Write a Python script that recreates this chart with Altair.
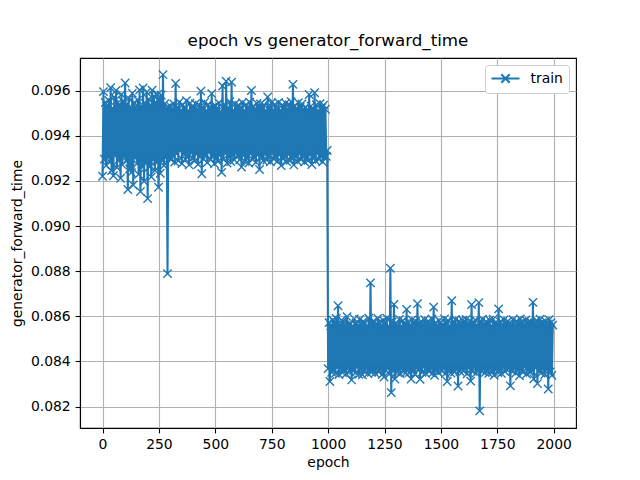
import altair as alt
import pandas as pd

# generator_forward_time, in units of 1e-5 s, one value every 4 epochs
time_0_96 = [9221, 9596, 9297, 9548, 9268, 9532, 9305, 9557, 9284, 9613, 9246, 9523, 9223, 9571, 9316, 9601, 9259, 9546, 9294, 9539, 9212, 9584, 9271, 9552, 9308]
time_100_196 = [9634, 9289, 9541, 9162, 9566, 9253, 9518, 9237, 9589, 9182, 9547, 9302, 9529, 9276, 9558, 9229, 9603, 9153, 9532, 9261, 9612, 9198, 9545, 9286, 9593]
time_200_296 = [9122, 9562, 9263, 9537, 9218, 9602, 9294, 9576, 9247, 9549, 9287, 9583, 9172, 9561, 9234, 9581, 9291, 9671, 9268, 9542, 9302, 9524, 8789, 9527, 9301]
time_300_396 = [9532, 9296, 9518, 9312, 9541, 9284, 9632, 9321, 9526, 9289, 9549, 9335, 9513, 9277, 9538, 9318, 9521, 9296, 9556, 9307, 9509, 9271, 9545, 9326, 9528]
time_400_496 = [9302, 9528, 9288, 9543, 9319, 9517, 9274, 9536, 9309, 9598, 9232, 9527, 9298, 9548, 9316, 9512, 9281, 9539, 9327, 9524, 9295, 9587, 9313, 9529, 9276]
time_500_596 = [9534, 9302, 9519, 9287, 9546, 9314, 9508, 9238, 9621, 9297, 9537, 9322, 9642, 9279, 9525, 9308, 9551, 9286, 9638, 9317, 9514, 9294, 9542, 9326, 9529]
time_600_696 = [9311, 9536, 9294, 9521, 9262, 9547, 9318, 9512, 9287, 9538, 9304, 9526, 9279, 9549, 9321, 9601, 9296, 9531, 9308, 9518, 9283, 9544, 9315, 9523, 9251]
time_700_796 = [9541, 9306, 9524, 9289, 9537, 9318, 9511, 9293, 9572, 9314, 9528, 9285, 9546, 9322, 9515, 9297, 9539, 9309, 9522, 9288, 9548, 9316, 9513, 9268, 9536]
time_800_896 = [9298, 9529, 9311, 9545, 9286, 9518, 9317, 9537, 9292, 9551, 9304, 9628, 9271, 9533, 9309, 9521, 9287, 9547, 9319, 9526, 9295, 9541, 9312, 9517, 9284]
time_900_996 = [9527, 9303, 9514, 9291, 9583, 9316, 9532, 9273, 9519, 9308, 9591, 9289, 9538, 9321, 9512, 9296, 9543, 9314, 9525, 9285, 9536, 9302, 9518, 9309, 9335]
time_1000_1096 = [8368, 8572, 8311, 8558, 8352, 8584, 8361, 8566, 8347, 8591, 8372, 8647, 8342, 8563, 8369, 8583, 8351, 8574, 8366, 8556, 8345, 8598, 8373, 8561, 8356]
time_1100_1196 = [8567, 8318, 8553, 8362, 8589, 8349, 8571, 8374, 8558, 8343, 8586, 8367, 8562, 8341, 8577, 8358, 8569, 8371, 8554, 8346, 8592, 8364, 8748, 8352, 8573]
time_1200_1296 = [8361, 8578, 8348, 8565, 8369, 8591, 8354, 8572, 8366, 8559, 8342, 8583, 8331, 8567, 8359, 8592, 8371, 8556, 8345, 8813, 8262, 8575, 8357, 8653, 8322]
time_1300_1396 = [8571, 8353, 8562, 8368, 8586, 8346, 8557, 8372, 8581, 8358, 8566, 8349, 8631, 8365, 8573, 8351, 8559, 8322, 8584, 8362, 8568, 8344, 8577, 8369, 8656]
time_1400_1496 = [8366, 8569, 8321, 8577, 8352, 8561, 8374, 8585, 8347, 8563, 8368, 8579, 8355, 8566, 8371, 8588, 8349, 8641, 8338, 8572, 8363, 8557, 8351, 8581, 8369]
time_1500_1596 = [8574, 8358, 8563, 8372, 8589, 8346, 8568, 8311, 8582, 8364, 8557, 8349, 8669, 8367, 8575, 8353, 8586, 8371, 8561, 8291, 8578, 8356, 8565, 8368, 8583]
time_1600_1696 = [8357, 8572, 8369, 8586, 8345, 8563, 8371, 8579, 8313, 8652, 8356, 8568, 8374, 8584, 8348, 8561, 8366, 8661, 8181, 8574, 8359, 8587, 8367, 8566, 8351]
time_1700_1796 = [8576, 8362, 8568, 8347, 8583, 8371, 8559, 8354, 8587, 8339, 8571, 8368, 8564, 8351, 8633, 8366, 8575, 8347, 8562, 8373, 8584, 8355, 8569, 8364, 8578]
time_1800_1896 = [8368, 8571, 8292, 8564, 8357, 8585, 8372, 8561, 8349, 8579, 8366, 8567, 8336, 8588, 8361, 8573, 8354, 8562, 8375, 8584, 8344, 8569, 8363, 8577, 8352]
time_1900_1996 = [8574, 8359, 8662, 8323, 8568, 8371, 8582, 8302, 8565, 8356, 8587, 8348, 8571, 8367, 8559, 8342, 8578, 8364, 8566, 8278, 8585, 8353, 8572, 8338, 8561]

x_ticks = [0, 250, 500, 750, 1000, 1250, 1500, 1750, 2000]
y_ticks = [0.082, 0.084, 0.086, 0.088, 0.090, 0.092, 0.094, 0.096]

chunks = [time_0_96, time_100_196, time_200_296, time_300_396, time_400_496,
          time_500_596, time_600_696, time_700_796, time_800_896, time_900_996,
          time_1000_1096, time_1100_1196, time_1200_1296, time_1300_1396, time_1400_1496,
          time_1500_1596, time_1600_1696, time_1700_1796, time_1800_1896, time_1900_1996]
values = [v / 1e5 for c in chunks for v in c]
epochs = list(range(0, 4 * len(values), 4))

df = pd.DataFrame({"epoch": epochs, "generator_forward_time": values, "series": ["train"] * len(values)})

blue = "#1f77b4"
xs = alt.Scale(domain=[-99.95, 2098.95], nice=False, zero=False)
ys = alt.Scale(domain=[0.08105, 0.09745], nice=False, zero=False)

base = alt.Chart(df).encode(
    x=alt.X("epoch:Q", scale=xs, axis=alt.Axis(values=x_ticks, title="epoch", format="d")),
    y=alt.Y("generator_forward_time:Q", scale=ys,
            axis=alt.Axis(values=y_ticks, title="generator_forward_time", format=".3f")),
)

line = base.mark_line(strokeWidth=2.08, clip=True).encode(
    color=alt.Color("series:N", scale=alt.Scale(range=[blue]),
                    legend=alt.Legend(
                        title=None, orient="top-right", offset=7, padding=5.5,
                        strokeColor="#cccccc", fillColor="white", cornerRadius=3,
                        symbolType="M-1,0L3,0M0.4,-0.6L1.6,0.6M0.4,0.6L1.6,-0.6",
                        symbolSize=196, symbolStrokeWidth=2, symbolStrokeColor=blue,
                        symbolFillColor="transparent",
                        labelOffset=24, labelFontSize=13.9, labelFont="DejaVu Sans",
                        labelColor="black")),
)
points = base.mark_point(shape="M-1,-1L1,1M-1,1L1,-1", size=70, strokeWidth=1.39,
                         color=blue, filled=False, opacity=1, clip=True)

chart = alt.layer(line, points).properties(
    width=496, height=370,
    title=alt.Title("epoch vs generator_forward_time", fontSize=16.7, font="DejaVu Sans",
                    fontWeight="normal", color="black", offset=8),
    autosize=alt.AutoSizeParams(type="none"),
    padding={"left": 80, "top": 58, "right": 64, "bottom": 52},
).configure_axis(
    labelFont="DejaVu Sans", labelFontSize=13.9, labelColor="black",
    titleFont="DejaVu Sans", titleFontSize=13.9, titleFontWeight="normal", titleColor="black",
    tickColor="black", tickSize=4.9, tickWidth=1.1, domainColor="black", domainWidth=1.1,
    gridColor="#b0b0b0", gridWidth=1.1, labelPadding=4.9, grid=True,
).configure_axisX(titlePadding=4).configure_axisY(titlePadding=6).configure_view(
    stroke="black", strokeWidth=1.1
)

chart.save("out.html", embed_options={"renderer": "svg", "actions": False})
